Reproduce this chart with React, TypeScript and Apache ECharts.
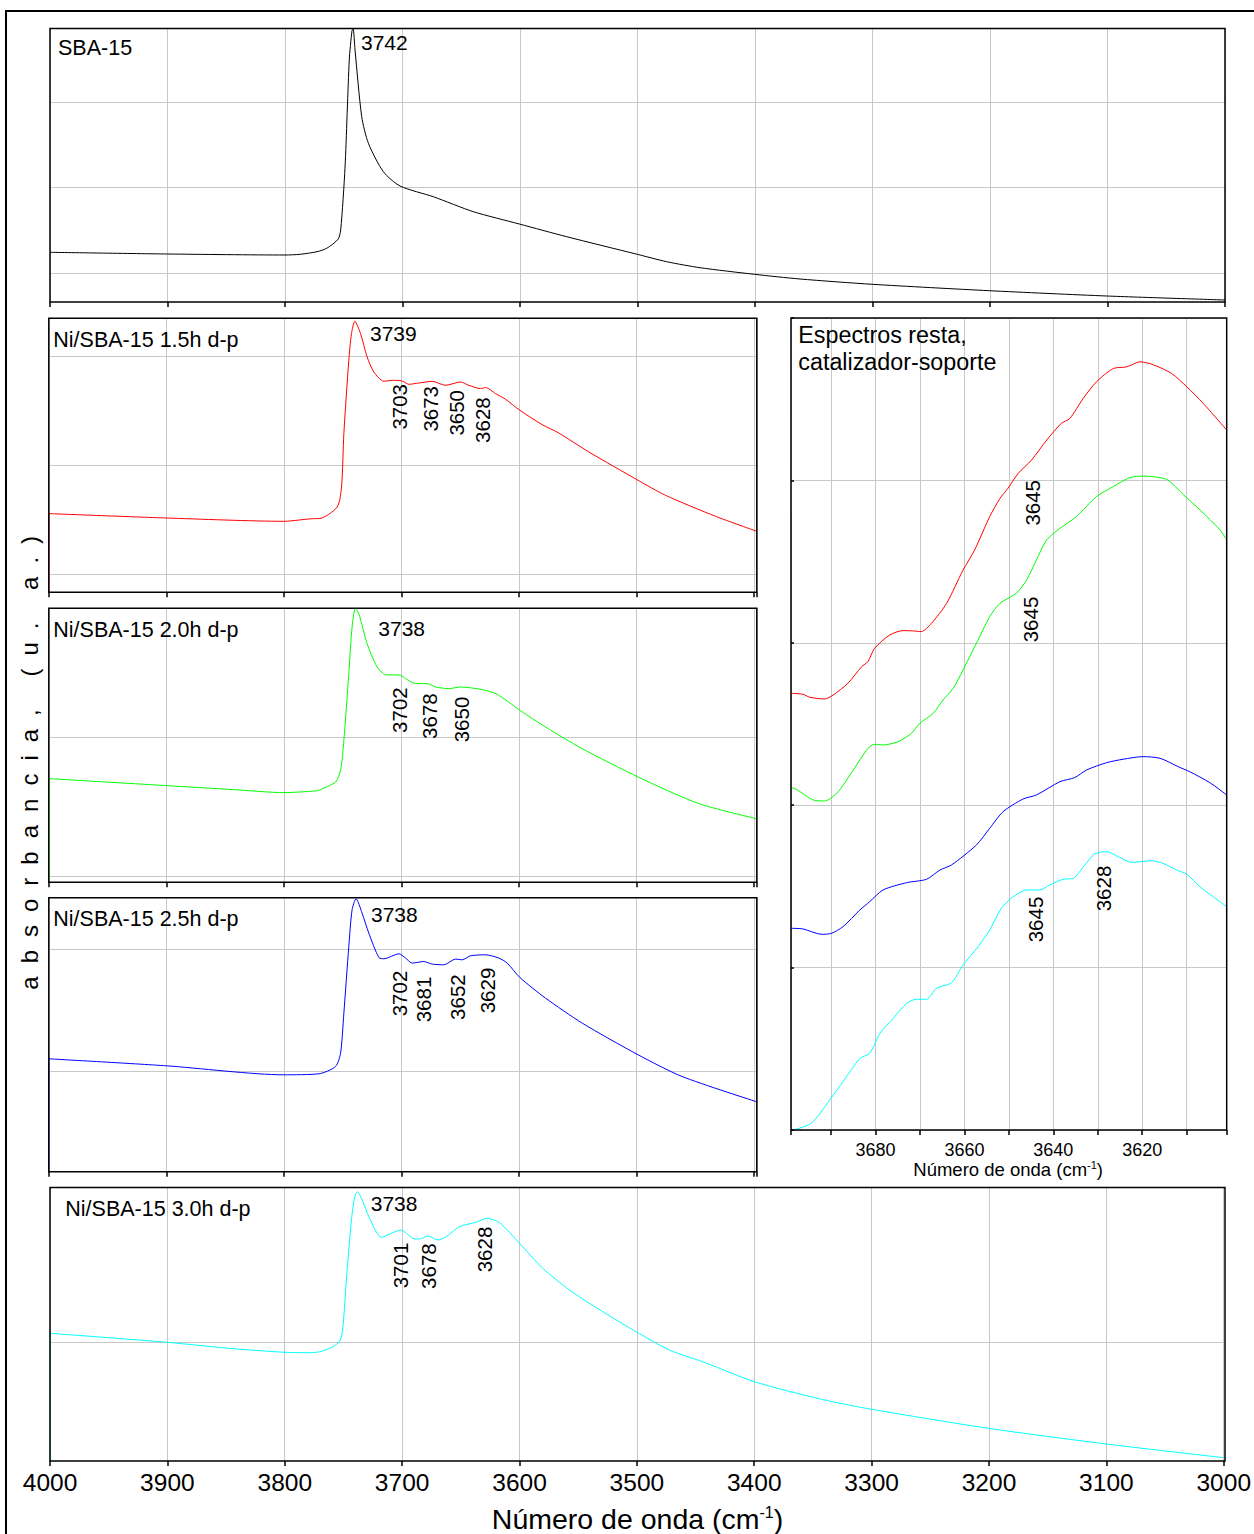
import React, { useEffect, useRef } from "react";
import * as echarts from "echarts";

const FONT = "'Liberation Sans', Arial, sans-serif";
const GRID_COLOR = "#c8c8c8";

// ---------- data: [wavenumber (cm-1), absorbance (a.u.)] ----------
const sba15: number[][] = [
  [4000, 49.7], [3900, 48], [3800, 47], [3787, 47.7], [3772.8, 50.3], [3764.5, 53.7],
  [3754.9, 62.7], [3752.6, 72], [3748.9, 135], [3745.3, 242], [3743, 271], [3742, 273],
  [3740.4, 252], [3734.7, 185.3], [3729, 158.7], [3716.3, 130.3], [3702.1, 116],
  [3673.8, 105.3], [3639.7, 90.3], [3600.6, 78], [3560.3, 65.3], [3500.2, 47.7],
  [3475.2, 40.3], [3446.8, 34.3], [3400.6, 27.7], [3361.7, 23], [3300.2, 17.7],
  [3200.6, 11.3], [3100.7, 6], [3000, 2],
];
const ni15: number[][] = [
  [4000, 78.7], [3900, 74.3], [3800, 71], [3773, 73.7], [3770, 73.7],
  [3754.6, 85.3], [3750.9, 105.3], [3748.9, 158.7], [3744.7, 232], [3742.4, 258.7],
  [3739.6, 271], [3734.7, 258.7], [3729.1, 235.3], [3723.4, 220.3], [3714.9, 211],
  [3707.8, 212], [3699.3, 211.3], [3693.6, 208], [3685.1, 209.3], [3673.8, 211],
  [3662.4, 207], [3649.6, 210.3], [3642.6, 207], [3632.6, 203.7], [3628.3, 204.7],
  [3619.8, 198.7], [3611.3, 193], [3599.1, 182], [3580.2, 167.7], [3566, 159.3],
  [3540.4, 140.3], [3498.5, 112], [3475.2, 97], [3432.6, 76], [3397.5, 61],
];
const ni20: number[][] = [
  [4000, 103.7], [3900, 96.7], [3843, 92.7], [3800, 89.7], [3773, 91.3],
  [3770.2, 92], [3756, 100.3], [3751.7, 112], [3748.9, 142], [3744.7, 208.7],
  [3741.9, 255.3], [3739.1, 273.7], [3736.2, 268.7], [3729.1, 238.7], [3720.6, 215.3],
  [3713.4, 207.7], [3700.7, 207], [3696.4, 203.7], [3687.9, 198.7], [3678, 198.7],
  [3670.9, 195.3], [3659.6, 193.7], [3649.6, 195.3], [3631.2, 192.7], [3618.5, 188],
  [3599.1, 172], [3577.3, 155.3], [3546.1, 133.7], [3498.5, 105.3], [3446.8, 78.7],
  [3397.5, 63.5],
];
const ni25: number[][] = [
  [4000, 113], [3900, 106], [3800, 97], [3770.2, 98], [3756, 105.3],
  [3751.7, 118.7], [3748.9, 158.7], [3744.7, 225.3], [3741.9, 262], [3738.5, 273],
  [3733.4, 258.7], [3727.7, 238.7], [3719.1, 214.3], [3714.9, 213], [3702.1, 218],
  [3696.4, 213.7], [3690.8, 208.7], [3680.9, 210.3], [3673.8, 207.7], [3663.8, 207],
  [3653.9, 212.7], [3648.2, 212], [3641.1, 216], [3628.3, 217], [3617, 213.7],
  [3609.9, 208.7], [3599.1, 194.3], [3577.3, 173.7], [3546.1, 148.7], [3498.5, 117],
  [3461.1, 95.3], [3397.5, 70],
];
const ni30: number[][] = [
  [4000, 127.7], [3900, 118.7], [3847.6, 112.7], [3800, 108.7],
  [3778.7, 108.3], [3770.2, 109.3], [3758.9, 114.3], [3752.6, 121], [3750.4, 134.3],
  [3747.5, 181], [3743.2, 241], [3740.4, 264.3], [3738.1, 269.3], [3734.7, 262.7],
  [3727.7, 242.7], [3717.7, 223.7], [3709.2, 227.7], [3701.3, 231], [3690.8, 222.7],
  [3685.1, 222], [3678, 225], [3669.5, 221], [3662.4, 224.3], [3651.1, 234.3],
  [3636.9, 238.7], [3628.3, 242.7], [3617, 238.3], [3600, 217.7], [3580.2, 192.7],
  [3557.4, 171], [3529.1, 149.3], [3500.7, 129.3], [3472.3, 111], [3440.4, 97.7],
  [3400, 79.3], [3342.7, 61.7], [3300, 51.7], [3200.6, 32.7], [3100, 17], [3000, 3.3],
];

// difference spectra (inset)
const diff15: number[][] = [
  [3699, 2.689], [3696.3, 2.683], [3694.8, 2.665], [3691.4, 2.654], [3689.5, 2.679],
  [3686.2, 2.751], [3683.1, 2.853], [3681.7, 2.884], [3680.2, 2.966], [3676.8, 3.048],
  [3673.8, 3.075], [3671.5, 3.073], [3669.7, 3.069], [3667.4, 3.12], [3664, 3.243],
  [3660.3, 3.448], [3657.7, 3.571], [3654.3, 3.777], [3652, 3.889], [3650.2, 3.951],
  [3647.9, 4.043], [3644.9, 4.125], [3641.5, 4.248], [3638.2, 4.351], [3636.3, 4.381],
  [3633.3, 4.504], [3630.3, 4.607], [3626.5, 4.689], [3623.5, 4.699], [3620.5, 4.73],
  [3617.9, 4.716], [3613.4, 4.659], [3610, 4.577], [3606.3, 4.475], [3601, 4.31],
];
const diff20: number[][] = [
  [3699, 2.108], [3697.8, 2.098], [3694, 2.032], [3691.4, 2.026], [3688.4, 2.083],
  [3685, 2.217], [3681.7, 2.35], [3680.2, 2.375], [3678.3, 2.371], [3674.9, 2.391],
  [3671.9, 2.443], [3670, 2.505], [3667, 2.566], [3664.8, 2.648], [3662.5, 2.72],
  [3660.3, 2.833], [3657.3, 2.997], [3654.3, 3.161], [3652, 3.243], [3648.3, 3.305],
  [3646, 3.387], [3643.8, 3.51], [3641.5, 3.633], [3638.5, 3.705], [3634.8, 3.777],
  [3630.3, 3.9], [3626.5, 3.962], [3622.8, 4.017], [3619.8, 4.027], [3616, 4.017],
  [3614.2, 4.002], [3610.8, 3.914], [3607, 3.818], [3602.5, 3.695], [3601, 3.633],
];
const diff25: number[][] = [
  [3699, 1.242], [3696.3, 1.238], [3692.1, 1.205], [3689.9, 1.211], [3687.3, 1.252],
  [3683.5, 1.355], [3681.3, 1.406], [3678.3, 1.478], [3673, 1.523], [3668.5, 1.544],
  [3665.5, 1.601], [3662.9, 1.632], [3657.3, 1.755], [3654.3, 1.858], [3651.3, 1.96],
  [3646.8, 2.038], [3643.8, 2.063], [3638.5, 2.145], [3635.2, 2.17], [3632.5, 2.217],
  [3628, 2.262], [3624.3, 2.283], [3619.9, 2.299], [3616, 2.289], [3611.9, 2.237],
  [3609.3, 2.206], [3604.8, 2.139], [3601, 2.063],
];
const diff30: number[][] = [
  [3698.5, 0], [3694.4, 0.042], [3690.3, 0.185], [3687.3, 0.298], [3683.5, 0.441],
  [3681.3, 0.472], [3679, 0.595], [3676, 0.688], [3673, 0.78], [3670.8, 0.805],
  [3668.5, 0.805], [3666.3, 0.872], [3662.9, 0.907], [3660.3, 1.016], [3656.9, 1.129],
  [3654.3, 1.232], [3651.7, 1.365], [3649, 1.437], [3646, 1.478], [3643, 1.478],
  [3640.8, 1.509], [3637.8, 1.544], [3635.5, 1.55], [3632.9, 1.632], [3630.7, 1.7],
  [3628, 1.714], [3625.4, 1.683], [3622.4, 1.648], [3617.9, 1.658], [3615.3, 1.642],
  [3612.3, 1.601], [3610, 1.576], [3607, 1.498], [3601, 1.375],
];

// horizontal grid-line levels for each stacked panel (a.u.)
const gridSba = [28.7, 114.7, 199.7];
const grid15 = [18.3, 127, 235.6];
const grid20 = [6, 144.6];
const grid25 = [100.8, 222.8];
const grid30 = [118.7];

// text content
const titles = ["SBA-15", "Ni/SBA-15 1.5h d-p", "Ni/SBA-15 2.0h d-p", "Ni/SBA-15 2.5h d-p", "Ni/SBA-15 3.0h d-p"];
const mainPeaks = ["3742", "3739", "3738", "3738", "3738"];
const peaks15 = ["3703", "3673", "3650", "3628"];
const peaks20 = ["3702", "3678", "3650"];
const peaks25 = ["3702", "3681", "3652", "3629"];
const peaks30 = ["3701", "3678", "3628"];
const insetPeaks = ["3645", "3645", "3645", "3628"];
const yTitle = "absorbancia, (u. a.)";

// ---------- layout ----------
const panels = [
  { left: 50, top: 28.5, width: 1175, height: 273.5, min: 3000, max: 4000, data: sba15, color: "#000000", grid: gridSba, labels: false, edge: false, tx: 58, ty: 48 },
  { left: 48.8, top: 318.3, width: 708, height: 274, min: 3397.5, max: 4000, data: ni15, color: "#ff0000", grid: grid15, labels: false, edge: true, tx: 53.3, ty: 339.8 },
  { left: 48.8, top: 608.3, width: 708, height: 274, min: 3397.5, max: 4000, data: ni20, color: "#00ff00", grid: grid20, labels: false, edge: true, tx: 53.3, ty: 629.5 },
  { left: 48.8, top: 897.8, width: 708, height: 274, min: 3397.5, max: 4000, data: ni25, color: "#0000ff", grid: grid25, labels: false, edge: true, tx: 53.3, ty: 919.3 },
  { left: 50, top: 1187.5, width: 1175, height: 273.5, min: 3000, max: 4000, data: ni30, color: "#00ffff", grid: grid30, labels: true, edge: true, tx: 65.3, ty: 1209.2 },
];
const inset = { left: 791, top: 318, width: 435.7, height: 812 };

const mainPeakPos = [[361, 42.5], [370, 333.3], [378.3, 628.2], [371, 914.2], [370.7, 1203.3]];
const rotPos15 = [[399.5, 384], [430.5, 386], [456.7, 390], [482.5, 397.3]];
const rotPos20 = [[399.5, 687.3], [429.7, 693.3], [461.7, 696.7]];
const rotPos25 = [[399.5, 970.7], [423.8, 976.7], [457.2, 974.3], [487.2, 967.7]];
const rotPos30 = [[400.5, 1242.7], [428.7, 1243.3], [484.7, 1226.7]];
const rotPosInset = [[1032, 480], [1030.5, 596.7], [1035, 896.7], [1103.3, 865.7]];

function txt(text: string, x: number, y: number, size: number, align = "left", rot = 0) {
  return {
    type: "text",
    x,
    y,
    rotation: rot,
    z: 110,
    silent: true,
    style: {
      text,
      fill: "#000",
      fontSize: size,
      fontFamily: FONT,
      align,
      verticalAlign: "middle",
      textAlign: align,
      textVerticalAlign: "middle",
    },
  };
}

function lineSeries(data: number[][], color: string, idx: number, smooth: number, extra: any = {}) {
  return {
    type: "line",
    xAxisIndex: idx,
    yAxisIndex: idx,
    data,
    showSymbol: false,
    symbol: "none",
    silent: true,
    smooth,
    z: 3,
    lineStyle: { color, width: 1 },
    itemStyle: { color },
    ...extra,
  };
}

function buildOption() {
  const grids: any[] = [];
  const xAxes: any[] = [];
  const yAxes: any[] = [];
  const series: any[] = [];
  const graphics: any[] = [];

  panels.forEach((p, i) => {
    grids.push({ left: p.left, top: p.top, width: p.width, height: p.height, show: false });
    const full = p.min === 3000;
    xAxes.push({
      gridIndex: i,
      type: "value",
      inverse: true,
      min: p.min,
      max: p.max,
      ...(full ? { interval: 100 } : { splitNumber: 6, minInterval: 100, maxInterval: 100 }),
      axisLine: { show: false },
      axisTick: { show: true, length: 5, lineStyle: { color: "#000", width: 1.5 } },
      axisLabel: {
        show: p.labels,
        color: "#000",
        fontSize: 24.5,
        fontFamily: FONT,
        margin: 21.5,
        verticalAlign: "middle",
        formatter: (v: number) => String(v),
      },
      splitLine: { show: true, lineStyle: { color: GRID_COLOR, width: 1 } },
    });
    yAxes.push({
      gridIndex: i,
      type: "value",
      min: 0,
      max: p.height,
      axisLine: { show: false },
      axisTick: { show: false },
      axisLabel: { show: false },
      splitLine: { show: false },
    });
    series.push(
      lineSeries(p.data, p.color, i, 0.25, {
        markLine: {
          silent: true,
          symbol: ["none", "none"],
          z: 1,
          label: { show: false },
          lineStyle: { color: GRID_COLOR, width: 1, type: "solid" },
          emphasis: { disabled: true },
          data: p.grid.map((v) => ({ yAxis: v })),
        },
      })
    );
    if (p.edge) {
      // the recorded spectrum drops to zero at its first point (left edge)
      series.push(lineSeries([[p.data[0][0], 0], p.data[0]], p.color, i, 0));
    }
    graphics.push({
      type: "rect",
      z: 100,
      silent: true,
      shape: { x: p.left, y: p.top, width: p.width, height: p.height },
      style: { fill: "none", stroke: "#000", lineWidth: 1.5 },
    });
    graphics.push(txt(titles[i], p.tx, p.ty, 21.5));
    graphics.push(txt(mainPeaks[i], mainPeakPos[i][0], mainPeakPos[i][1], 21));
  });

  // inset
  const ii = panels.length;
  grids.push({ left: inset.left, top: inset.top, width: inset.width, height: inset.height, show: false });
  xAxes.push({
    gridIndex: ii,
    type: "value",
    inverse: true,
    min: 3601,
    max: 3699,
    splitNumber: 10,
    minInterval: 10,
    maxInterval: 10,
    axisLine: { show: false },
    axisTick: { show: true, length: 5, lineStyle: { color: "#000", width: 1.5 } },
    axisLabel: {
      color: "#000",
      fontSize: 18,
      fontFamily: FONT,
      margin: 20,
      verticalAlign: "middle",
      formatter: (v: number) => (Math.abs(v % 20) < 1e-6 ? String(v) : ""),
    },
    splitLine: { show: true, lineStyle: { color: GRID_COLOR, width: 1 } },
  });
  yAxes.push({
    gridIndex: ii,
    type: "value",
    min: 0,
    max: 5,
    interval: 1,
    axisLine: { show: false },
    axisTick: { show: true, inside: true, length: 3, lineStyle: { color: "#000", width: 1.5 } },
    axisLabel: { show: false },
    splitLine: { show: true, lineStyle: { color: GRID_COLOR, width: 1 } },
  });
  [
    [diff15, "#ff0000"],
    [diff20, "#00ff00"],
    [diff25, "#0000ff"],
    [diff30, "#00ffff"],
  ].forEach(([d, c]: any) => {
    series.push(lineSeries(d, c, ii, 0.25));
  });
  graphics.push({
    type: "rect",
    z: 100,
    silent: true,
    shape: { x: inset.left, y: inset.top, width: inset.width, height: inset.height },
    style: { fill: "none", stroke: "#000", lineWidth: 1.5 },
  });
  graphics.push(txt("Espectros resta,", 798.3, 335, 23.3));
  graphics.push(txt("catalizador-soporte", 798.3, 362.3, 23.3));

  // rotated peak labels
  const rot = Math.PI / 2;
  const addRot = (labels: string[], pos: number[][]) =>
    labels.forEach((t, k) => graphics.push(txt(t, pos[k][0], pos[k][1], 20.5, "right", rot)));
  addRot(peaks15, rotPos15);
  addRot(peaks20, rotPos20);
  addRot(peaks25, rotPos25);
  addRot(peaks30, rotPos30);
  addRot(insetPeaks, rotPosInset);

  // axis titles with superscript
  const axisTitle = (x: number, y: number, size: number, sup: number) => ({
    type: "text",
    x,
    y,
    z: 110,
    silent: true,
    style: {
      text: "{a|Número de onda (cm}{s|-1}{a|)}",
      fill: "#000",
      fontSize: size,
      fontFamily: FONT,
      align: "left",
      verticalAlign: "middle",
      rich: {
        a: { fontSize: size, fontFamily: FONT, fill: "#000" },
        s: { fontSize: sup, fontFamily: FONT, fill: "#000", verticalAlign: "top" },
      },
    },
  });
  graphics.push(axisTitle(491.8, 1518.5, 28.5, 16));
  graphics.push(axisTitle(913.3, 1169, 18.5, 11));

  // spaced vertical y-axis title
  const yFont = 24;
  const LS = 13;
  const chars = yTitle.split("");
  let widths = chars.map(() => yFont * 0.5);
  try {
    const ctx = document.createElement("canvas").getContext("2d");
    if (ctx) {
      ctx.font = `${yFont}px 'Liberation Sans'`;
      widths = chars.map((c) => ctx.measureText(c).width);
    }
  } catch (e) {
    /* ignore */
  }
  let pos = 983;
  chars.forEach((c, k) => {
    if (k > 0) pos -= (widths[k - 1] + widths[k]) / 2 + LS;
    if (c !== " ") graphics.push(txt(c, 29.7, pos, yFont, "center", rot));
  });

  // outer frame
  graphics.push({
    type: "rect",
    z: 100,
    silent: true,
    shape: { x: 6, y: 11, width: 1400, height: 1700 },
    style: { fill: "none", stroke: "#000", lineWidth: 2 },
  });

  return {
    animation: false,
    backgroundColor: "#ffffff",
    grid: grids,
    xAxis: xAxes,
    yAxis: yAxes,
    series,
    graphic: { elements: graphics },
  };
}

export default function App() {
  const ref = useRef<HTMLDivElement>(null);
  useEffect(() => {
    if (!ref.current) return;
    const chart = echarts.init(ref.current, null, { renderer: "svg" });
    chart.setOption(buildOption() as any);
    return () => chart.dispose();
  }, []);
  return (
    <div
      ref={ref}
      style={{ position: "absolute", left: 0, top: 0, width: 1254, height: 1534, background: "#fff" }}
    />
  );
}
